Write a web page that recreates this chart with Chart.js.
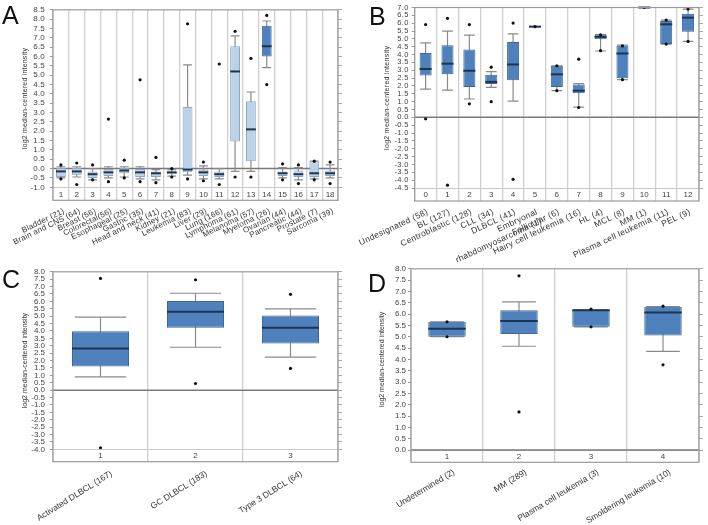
<!DOCTYPE html>
<html>
<head>
<meta charset="utf-8">
<script src="https://cdn.jsdelivr.net/npm/chart.js@4.4.0/dist/chart.umd.min.js"></script>
<style>
  body { margin: 0; background: #fff; }
  #lienzo { position: relative; width: 708px; height: 525px; overflow: hidden; background: #fff; }
  canvas { position: absolute; }
  .letra { position: absolute; font-family: 'Liberation Sans', Arial, sans-serif; font-size: 25px; color: #111; line-height: 1; }
</style>
</head>
<body>
<div id="lienzo">
  <canvas id="chartA" width="354" height="262" style="left:0;top:0"></canvas>
  <canvas id="chartB" width="354" height="262" style="left:354px;top:0"></canvas>
  <canvas id="chartC" width="354" height="263" style="left:0;top:262px"></canvas>
  <canvas id="chartD" width="354" height="263" style="left:354px;top:262px"></canvas>
  <div class="letra" style="left:2px;top:3px">A</div>
  <div class="letra" style="left:369px;top:4px">B</div>
  <div class="letra" style="left:2px;top:267px">C</div>
  <div class="letra" style="left:368px;top:271px">D</div>
</div>
<script>
// Panel A: tipos de cáncer
const catsA = ['Bladder (21)', 'Brain and CNS (64)', 'Breast (56)', 'Colorectal(56)', 'Esophageal (25)', 'Gastric (35)',
  'Head and neck (41)', 'Kidney (21)', 'Leukemia (83)', 'Liver (29)', 'Lung (166)', 'Lymphoma (61)', 'Melanoma (57)',
  'Myeloma (26)', 'Ovarian (44)', 'Pancreatic (44)', 'Prostate (7)', 'Sarcoma (39)'];
const numsA = ['1', '2', '3', '4', '5', '6', '7', '8', '9', '10', '11', '12', '13', '14', '15', '16', '17', '18'];
const q1A = [-0.45, -0.35, -0.5, -0.4, -0.25, -0.45, -0.45, -0.3, -0.2, -0.4, -0.45, 1.45, 0.4, 6.0, -0.4, -0.45, -0.45, -0.4];
const medA = [-0.15, -0.15, -0.3, -0.2, -0.1, -0.2, -0.25, -0.2, -0.05, -0.2, -0.3, 5.2, 2.1, 6.55, -0.25, -0.3, -0.25, -0.25];
const q3A = [0.05, 0.05, -0.15, 0.0, 0.05, 0.0, -0.15, -0.15, 3.3, -0.05, -0.15, 6.55, 3.6, 7.65, -0.15, -0.1, 0.4, -0.1];
const loA = [-0.5, -0.45, -0.6, -0.5, -0.45, -0.55, -0.6, -0.4, -0.35, -0.55, -0.55, -0.15, -0.15, 5.4, -0.5, -0.6, -0.55, -0.5];
const hiA = [0.1, 0.1, 0.0, 0.1, 0.1, 0.1, -0.05, -0.05, 5.55, 0.15, 0.0, 7.1, 4.1, 7.9, 0.05, 0.05, 0.4, 0.2];
const outA = [[0.2, -0.55], [0.3, -0.85], [0.2, -0.6], [2.65, -0.7], [0.45, -0.5], [4.75, -0.7], [0.6, -0.75], [0.0, -0.45],
  [7.75, -0.55], [0.35, -0.65], [5.6, -0.85], [7.35, -0.45], [5.9, -0.45], [8.2, 4.5], [0.25, -0.6], [0.2, -0.8], [0.4, -0.6], [0.35, -0.8]];

// Panel B: subtipos de linfoma
const catsB = ['Undesignated (58)', 'BL (127)', 'Centroblastic (128)', 'CLL (34)', 'DLBCL (41)', ['Embryonal', 'rhabdomyosarcoma (1)'],
  'Follicular (6)', 'Hairy cell leukemia (16)', 'HL (4)', 'MCL (8)', 'MM (1)', 'Plasma cell leukemia (11)', 'PEL (9)'];
const numsB = ['0', '1', '2', '3', '4', '5', '6', '7', '8', '9', '10', '11', '12'];
const q1B = [2.66, 2.74, 1.93, 2.12, 2.37, 5.76, 1.93, 1.53, 4.97, 2.5, 6.98, 4.67, 5.45];
const medB = [3.08, 3.42, 2.97, 2.26, 3.37, 5.78, 2.74, 1.7, 5.13, 4.07, 7.0, 5.93, 6.35];
const q3B = [4.1, 4.59, 4.32, 2.72, 4.8, 5.8, 3.29, 2.1, 5.28, 4.57, 7.0, 6.14, 6.6];
const loB = [1.8, 1.74, 1.17, 1.91, 1.03, 5.78, 1.7, 0.65, 4.23, 2.4, 7.0, 4.67, 4.84];
const hiB = [4.74, 5.49, 5.24, 2.91, 5.32, 5.78, 3.29, 2.15, 5.28, 4.6, 7.0, 6.2, 6.9];
const outB = [[5.91, -0.09], [6.31, -4.32], [5.91, 0.86], [3.2, 1.0], [6.01, -3.95], [5.78], [3.29, 1.7], [3.71, 0.63],
  [5.25, 4.25], [4.55, 2.4], [7.0], [6.2, 4.67], [6.9, 4.84]];

// Panel C: DLBCL
const catsC = ['Activated DLBCL (167)', 'GC DLBCL (183)', 'Type 3 DLBCL (64)'];
const numsC = ['1', '2', '3'];
const q1C = [1.59, 4.22, 3.15];
const medC = [2.82, 5.3, 4.22];
const q3C = [3.98, 6.03, 5.05];
const loC = [0.89, 2.9, 2.23];
const hiC = [4.94, 6.55, 5.5];
const outC = [[7.55, -3.9], [7.46, 0.45], [6.48, 1.47]];

// Panel D: mieloma
const catsD = ['Undetermined (2)', 'MM (289)', 'Plasma cell leukemia (3)', 'Smoldering leukemia (10)'];
const numsD = ['1', '2', '3', '4'];
const q1D = [5.0, 5.12, 5.44, 5.06];
const medD = [5.35, 5.7, 6.17, 6.07];
const q3D = [5.66, 6.17, 6.19, 6.33];
const loD = [5.0, 4.58, 5.44, 4.35];
const hiD = [5.66, 6.54, 6.19, 6.33];
const outD = [[5.66, 5.0], [7.69, 1.68], [6.22, 5.44], [6.35, 3.76]];

const fuente = "'Liberation Sans', Arial, sans-serif";
const azulClaro = '#bcd2e8', bordeClaro = '#8ea6bf';
const azul = '#4f81bd', bordeAzul = '#3d6899';

// Bigotes, medianas, línea del cero, banda de números y marco
const plugCajas = {
  id: 'cajas',
  beforeDraw(chart, args, o) {
    chart.ctx.letterSpacing = o.espacio || '0px';
  },
  beforeDatasetsDraw(chart, args, o) {
    const { ctx, chartArea, scales: { x, y } } = chart;
    const meta = chart.getDatasetMeta(0);
    ctx.save();
    if (y.min <= 0 && y.max >= 0) {
      const y0 = y.getPixelForValue(0);
      ctx.strokeStyle = '#7a7a7a';
      ctx.lineWidth = 1.5;
      ctx.beginPath();
      ctx.moveTo(chartArea.left, y0);
      ctx.lineTo(chartArea.right, y0);
      ctx.stroke();
    }
    ctx.strokeStyle = '#8a8a8a';
    ctx.lineWidth = 1.2;
    o.lo.forEach((lo, i) => {
      const hi = o.hi[i];
      if (hi === lo) return;
      const px = x.getPixelForValue(i);
      const w = meta.data[i].width * o.cap / 2;
      const yl = y.getPixelForValue(lo), yh = y.getPixelForValue(hi);
      ctx.beginPath();
      ctx.moveTo(px, yl); ctx.lineTo(px, yh);
      ctx.moveTo(px - w, yl); ctx.lineTo(px + w, yl);
      ctx.moveTo(px - w, yh); ctx.lineTo(px + w, yh);
      ctx.stroke();
    });
    ctx.restore();
  },
  afterDatasetDraw(chart, args, o) {
    if (args.index !== 0) return;
    const { ctx, scales: { x, y } } = chart;
    const meta = chart.getDatasetMeta(0);
    ctx.save();
    ctx.strokeStyle = '#1c3550';
    ctx.lineWidth = 2;
    o.med.forEach((m, i) => {
      const px = x.getPixelForValue(i);
      const w = meta.data[i].width / 2;
      const py = y.getPixelForValue(m);
      ctx.beginPath();
      ctx.moveTo(px - w, py);
      ctx.lineTo(px + w, py);
      ctx.stroke();
    });
    ctx.restore();
  },
  afterDraw(chart, args, o) {
    const { ctx, chartArea, scales: { x } } = chart;
    ctx.save();
    ctx.letterSpacing = '0px';
    ctx.font = '8px ' + fuente;
    ctx.fillStyle = '#444';
    ctx.textAlign = 'center';
    ctx.textBaseline = 'middle';
    o.nums.forEach((n, i) => {
      ctx.fillText(n, x.getPixelForValue(i), chartArea.bottom + o.band / 2 + 0.5);
    });
    ctx.strokeStyle = '#9a9a9a';
    ctx.lineWidth = 1.2;
    ctx.strokeRect(chartArea.left, chartArea.top, chartArea.right - chartArea.left, chartArea.bottom + o.band - chartArea.top);
    ctx.restore();
  }
};

function crearBoxplot(id, d, g) {
  const canvas = document.getElementById(id);
  const W = canvas.width, H = canvas.height;
  const puntos = d.out.flatMap((vals, i) => vals.map(v => ({ x: d.cats[i], y: v })));
  return new Chart(canvas.getContext('2d'), {
    type: 'bar',
    data: {
      labels: d.cats,
      datasets: [{
        data: d.q1.map((q, i) => [q, d.q3[i]]),
        backgroundColor: d.cats.map(c => d.oscuro(c) ? azul : azulClaro),
        borderColor: d.cats.map(c => d.oscuro(c) ? bordeAzul : bordeClaro),
        borderWidth: 1,
        borderSkipped: false,
        barPercentage: g.ancho,
        categoryPercentage: 1,
        xAxisID: 'x',
        yAxisID: 'y',
        order: 1
      }, {
        type: 'line',
        data: puntos,
        showLine: false,
        pointRadius: 1.6,
        pointBackgroundColor: '#111',
        pointBorderWidth: 0,
        xAxisID: 'x',
        yAxisID: 'y',
        order: 0
      }]
    },
    options: {
      responsive: false,
      animation: false,
      layout: { autoPadding: false, padding: { top: g.top, left: 0, right: 0, bottom: 0 } },
      plugins: {
        legend: { display: false },
        tooltip: { enabled: false },
        cajas: { lo: d.lo, hi: d.hi, med: d.med, nums: d.nums, band: g.band, cap: 0.9, espacio: g.espacio }
      },
      scales: {
        x: {
          offset: true,
          grid: { offset: true, color: '#cfcfcf', lineWidth: 1.3, tickLength: g.band },
          border: { color: '#c8c8c8' },
          ticks: { autoSkip: false, minRotation: g.rot, maxRotation: g.rot, padding: g.namePad, labelOffset: g.desvio,
                   font: { size: g.fontName, family: fuente }, color: '#333' },
          afterFit: s => { s.height = H - g.bottom; }
        },
        y: {
          min: g.min, max: g.max,
          ticks: { stepSize: 0.5, autoSkip: false, callback: v => v.toFixed(1), padding: g.tickPad,
                   font: { size: g.fontTick, family: fuente }, color: '#444' },
          grid: { drawOnChartArea: false, tickLength: 3, color: '#999' },
          border: { display: false },
          title: { display: true, text: 'log2 median-centered intensity', color: '#333',
                   font: { size: 7, family: fuente }, padding: { top: g.titlePad, bottom: 0 } },
          afterFit: s => { s.width = g.left; }
        },
        y2: {
          position: 'right',
          min: g.min, max: g.max,
          ticks: { display: false, stepSize: 0.5 },
          grid: { drawOnChartArea: false, tickLength: 4, color: '#aaa' },
          border: { display: false },
          afterFit: s => { s.width = W - g.right; }
        }
      }
    },
    plugins: [plugCajas]
  });
}

crearBoxplot('chartA',
  { cats: catsA, nums: numsA, q1: q1A, med: medA, q3: q3A, lo: loA, hi: hiA, out: outA, oscuro: c => c.startsWith('Myeloma') },
  { left: 53, right: 338, top: 5, bottom: 187.3, band: 13, rot: 26, ancho: 0.62, tickPad: 5, titlePad: 21, fontTick: 8,
    fontName: 8, namePad: 6, desvio: 3, espacio: '0.2px', min: -1, max: 8.5 });

crearBoxplot('chartB',
  { cats: catsB, nums: numsB, q1: q1B, med: medB, q3: q3B, lo: loB, hi: hiB, out: outB, oscuro: () => true },
  { left: 58, right: 345, top: 5, bottom: 188, band: 13, rot: 25, ancho: 0.55, tickPad: 3, titlePad: 26.5, fontTick: 7.5,
    fontName: 8.5, namePad: 6, desvio: 2, espacio: '0.3px', min: -4.5, max: 7 });

crearBoxplot('chartC',
  { cats: catsC, nums: numsC, q1: q1C, med: medC, q3: q3C, lo: loC, hi: hiC, out: outC, oscuro: () => true },
  { left: 53, right: 338, top: 8, bottom: 187.3, band: 12.4, rot: 32, ancho: 0.6, tickPad: 5, titlePad: 20.5, fontTick: 8,
    fontName: 8.5, namePad: 7, desvio: 11, espacio: '0px', min: -4, max: 8 });

crearBoxplot('chartD',
  { cats: catsD, nums: numsD, q1: q1D, med: medD, q3: q3D, lo: loD, hi: hiD, out: outD, oscuro: () => true },
  { left: 57, right: 345, top: 6, bottom: 188, band: 12.3, rot: 31, ancho: 0.52, tickPad: 2, titlePad: 23.5, fontTick: 8,
    fontName: 8.5, namePad: 5, desvio: 7, espacio: '0px', min: 0, max: 8 });
</script>
</body>
</html>
